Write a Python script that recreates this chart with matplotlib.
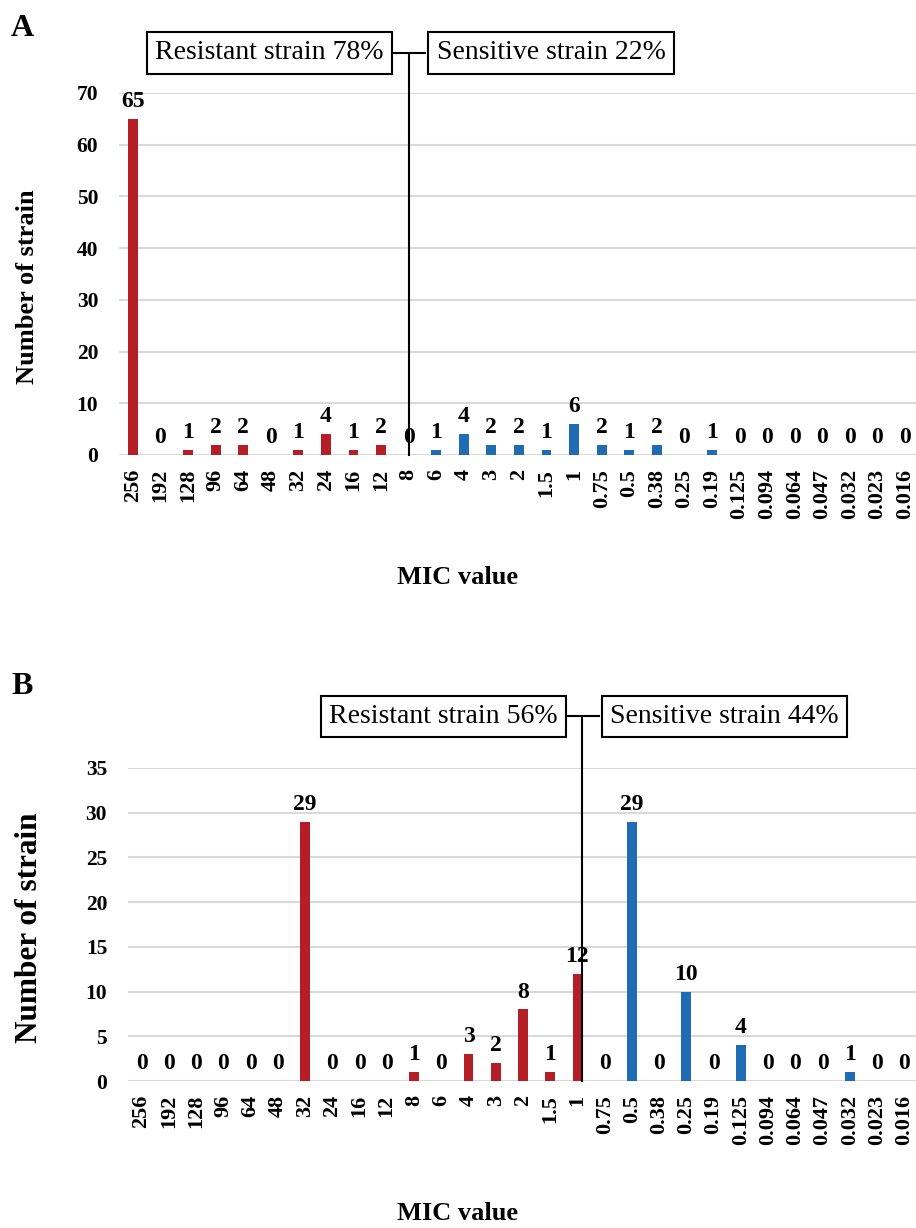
import matplotlib.pyplot as plt
import matplotlib.transforms as mtransforms

# MIC categories (same for both panels)
mic = ['256', '192', '128', '96', '64', '48', '32', '24', '16', '12', '8', '6',
       '4', '3', '2', '1.5', '1', '0.75', '0.5', '0.38', '0.25', '0.19',
       '0.125', '0.094', '0.064', '0.047', '0.032', '0.023', '0.016']

# Panel A counts
counts_a = [65, 0, 1, 2, 2, 0, 1, 4, 1, 2, 0, 1, 4, 2, 2, 1, 6, 2, 1, 2, 0, 1,
            0, 0, 0, 0, 0, 0, 0]
n_resist_a = 11   # 256 ... 8 are resistant
# Panel B counts
counts_b = [0, 0, 0, 0, 0, 0, 29, 0, 0, 0, 1, 0, 3, 2, 8, 1, 12, 0, 29, 0, 10, 0,
            4, 0, 0, 0, 1, 0, 0]
n_resist_b = 17   # 256 ... 1 are resistant

RED = '#B51E26'
BLUE = '#1F6BB4'
GRID = '#D9D9D9'

plt.rcParams['font.family'] = ['Liberation Serif', 'DejaVu Serif']

fig = plt.figure(figsize=(9.16, 12.28), dpi=100)


def panel(rect, counts, n_resist, ymax, ystep, cut_x, box_y, left_txt, right_txt,
          ylabel_size, letter, letter_y, xlabel_y, ylabel_x, ylabel_y):
    ax = fig.add_axes(rect)
    x = list(range(len(counts)))
    colors = [RED if i < n_resist else BLUE for i in x]
    ax.bar(x, counts, width=0.36, color=colors, zorder=3)
    for i, v in enumerate(counts):
        ax.annotate(str(v), (i, v), xytext=(0, 5), textcoords='offset points',
                    ha='center', va='bottom', fontsize=17, fontweight='bold',
                    annotation_clip=False, zorder=4)
    ax.set_xlim(-0.5, len(counts) - 0.5)
    ax.set_ylim(0, ymax)
    ax.set_yticks(range(0, ymax + 1, ystep))
    ax.set_xticks(x)
    ax.set_xticklabels(mic, rotation=90, fontsize=16, fontweight='bold')
    for lab in ax.get_yticklabels():
        lab.set_fontsize(15.5)
        lab.set_fontweight('bold')
    ax.tick_params(length=0, pad=10)
    ax.tick_params(axis='y', pad=15)
    ax.grid(axis='y', color=GRID, linewidth=1.5, zorder=0)
    for s in ax.spines.values():
        s.set_visible(False)

    # dividing line and boxes
    tr = mtransforms.blended_transform_factory(ax.transData, ax.transAxes)
    ax.plot([cut_x, cut_x], [0, box_y], color='black', lw=1.5, transform=tr,
            clip_on=False, zorder=5)
    ax.plot([cut_x - 0.6, cut_x + 0.6], [box_y, box_y], color='black', lw=1.5,
            transform=tr, clip_on=False, zorder=5)
    bb = dict(boxstyle='square,pad=0.3', facecolor='white', edgecolor='black',
              linewidth=1.5)
    ax.text(cut_x - 0.9, box_y, left_txt, transform=tr, ha='right', va='center',
            fontsize=20, bbox=bb, zorder=6)
    ax.text(cut_x + 1.02, box_y, right_txt, transform=tr, ha='left', va='center',
            fontsize=20, bbox=bb, zorder=6)

    fig.text(ylabel_x, ylabel_y, 'Number of strain', rotation=90,
             ha='center', va='center', fontsize=ylabel_size, fontweight='bold')
    fig.text(0.499, xlabel_y, 'MIC value', ha='center', va='center',
             fontsize=19, fontweight='bold')
    fig.text(0.012, letter_y, letter, ha='left', va='center', fontsize=23,
             fontweight='bold')
    return ax


panel([0.130, 0.6295, 0.873, 0.2948], counts_a, n_resist_a, 70, 10, 10.0, 1.1105,
      'Resistant strain 78%', 'Sensitive strain 22%', 19, 'A', 1 - 28 / 1228,
      1 - 577 / 1228, 0.030, 1 - 287 / 1228)
panel([0.1397, 0.1197, 0.8624, 0.2549], counts_b, n_resist_b, 35, 5, 16.18, 1.165,
      'Resistant strain 56%', 'Sensitive strain 44%', 22.5, 'B', 1 - 686 / 1228,
      1 - 1214 / 1228, 0.032, 1 - 928 / 1228)

fig.savefig('out.png', dpi=100, facecolor='white')
